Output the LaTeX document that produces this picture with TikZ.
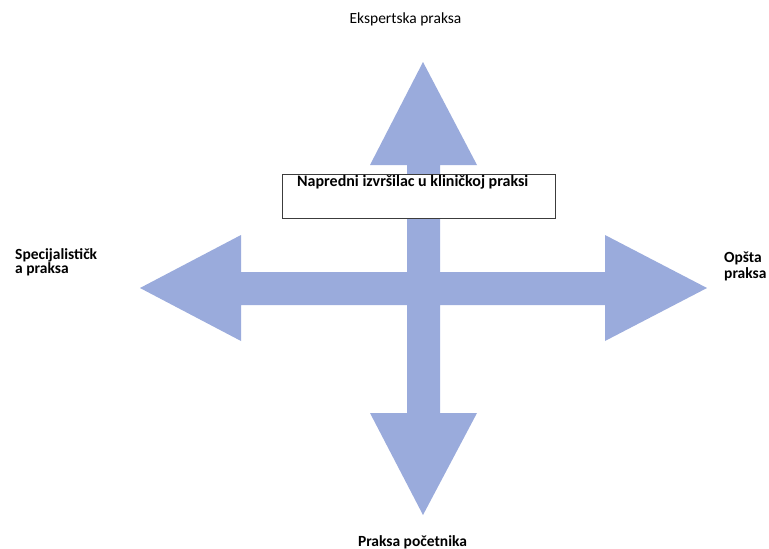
\documentclass[tikz,border=0pt]{standalone}
\usepackage{fontspec}
\setmainfont{Carlito}
\usepackage{tikz}
\usetikzlibrary{positioning}
\definecolor{myblue}{RGB}{154,171,220}
\definecolor{mygray}{RGB}{60,60,60}

\begin{document}
\begin{tikzpicture}[x=1pt,y=-1pt,
  arrowshape/.style={fill=myblue,draw=none},
  txtnode/.style={inner sep=0pt,font=\fontsize{15.5}{14}\selectfont},
  boldnode/.style={txtnode,font=\fontsize{15.5}{14}\selectfont\bfseries,align=left},
  boxnode/.style={draw=mygray,fill=white,line width=0.9pt,inner sep=0pt}
]
\useasboundingbox (0,0) rectangle (769,549);

% the tips of the cross
\coordinate (up) at (423,62);
\coordinate (down) at (423,515);
\coordinate (left) at (140,288);
\coordinate (right) at (707,288);

% the cross of arrows
\fill[arrowshape] (up) -- (477,165) -- (440,165) -- (440,272) -- (605,272)
  -- (605,235) -- (right) -- (605,341) -- (605,305) -- (440,305)
  -- (440,413) -- (477,413) -- (down) -- (370,413) -- (407,413)
  -- (407,305) -- (241,305) -- (241,341) -- (left) -- (241,235)
  -- (241,272) -- (407,272) -- (407,165) -- (370,165) -- cycle;

% the box
\node[boxnode,minimum width=273,minimum height=44,anchor=north west] (box) at (282,174) {};
\node[boldnode,font=\fontsize{16}{14}\selectfont\bfseries,anchor=base west] (title) at (297,186) {Napredni izvršilac u kliničkoj praksi};

% the four ends
\node[txtnode,anchor=base] (expert) at (405.5,23) {Ekspertska praksa};
\node[boldnode,anchor=base] (novice) at (412.5,546) {Praksa početnika};
\node[boldnode,anchor=north west] (special) at (15,248) {Specijalističk\\a praksa};
\node[boldnode,font=\fontsize{15.5}{16}\selectfont\bfseries,anchor=north west] (general) at (724,252) {Opšta\\praksa};
\end{tikzpicture}
\end{document}
